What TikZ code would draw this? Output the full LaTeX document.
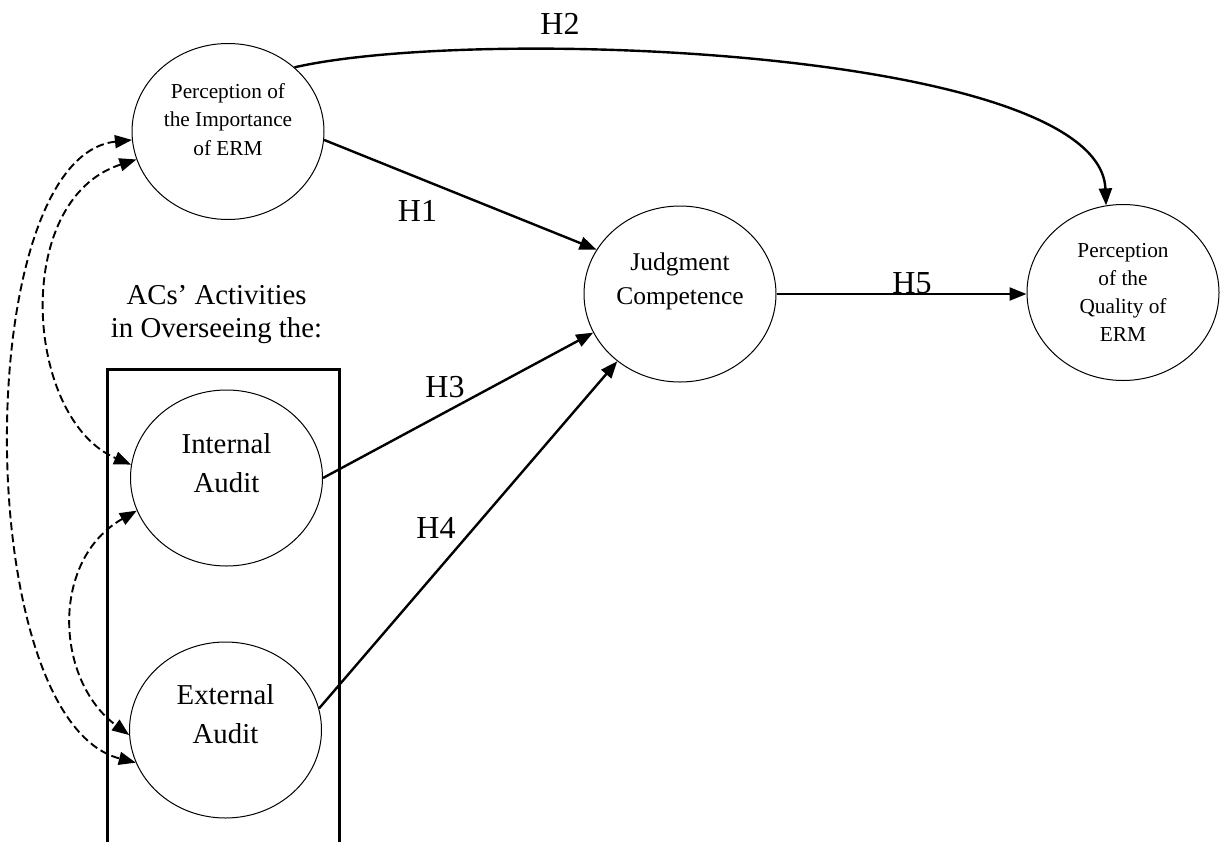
\documentclass[tikz,border=0pt]{standalone}
\usepackage{fontspec}
\setmainfont{Liberation Serif}
\usetikzlibrary{arrows.meta,shapes.geometric}

\begin{document}
\begin{tikzpicture}[x=0.5pt,y=-0.5pt,>={Triangle[length=8.5pt,width=6.5pt]},
  construct/.style={draw,ellipse,line width=0.5pt,minimum width=96pt,minimum height=88pt,inner sep=0pt,align=center},
  hyp/.style={->,line width=1.2pt},
  corr/.style={<->,line width=0.95pt,dash pattern=on 4pt off 2pt},
  hlab/.style={font=\fontsize{16}{19}\selectfont}]
  \useasboundingbox (0,0) rectangle (1226,841);

  % constructs
  \node[construct,font=\fontsize{10.65}{14.25}\selectfont] (imp) at (228,131.5) {Perception of\\the Importance\\of ERM\rule[-12.25pt]{0pt}{12.25pt}};
  \node[construct,font=\fontsize{12.75}{17}\selectfont] (jc) at (680,294) {Judgment\\Competence\rule[-15.75pt]{0pt}{15.75pt}};
  \node[construct,font=\fontsize{10.65}{14}\selectfont] (qual) at (1123,292.5) {Perception\\of the\\Quality of\\ERM};
  \node[construct,font=\fontsize{14.4}{19.5}\selectfont] (ia) at (226.5,478) {Internal\\Audit\rule[-15.25pt]{0pt}{15.25pt}};
  \node[construct,font=\fontsize{14.4}{19.5}\selectfont] (ea) at (225.5,730) {External\\Audit\rule[-16.25pt]{0pt}{16.25pt}};

  % AC box
  \node[align=center,font=\fontsize{14.4}{16.5}\selectfont] (acs) at (216.5,315) {ACs’ Activities\\in Overseeing the:};
  \draw[line width=1.5pt] (107,850) -- (107,369) -- (339,369) -- (339,850);

  % hypotheses
  \draw[hyp] (imp.355) -- (jc.152);
  \draw[hyp] (imp.44) .. controls (480,25) and (1100,50) .. (qual.101);
  \draw[hyp] (ia.0) -- (jc.204);
  \draw[hyp] (ea.13) -- (jc.227);
  \draw[hyp] (jc.east) -- (jc.east -| qual.west);
  \node[hlab] (h1) at (417.5,211) {H1};
  \node[hlab] (h2) at (560,24) {H2};
  \node[hlab] (h3) at (445,387) {H3};
  \node[hlab] (h4) at (436,528) {H4};
  \node[hlab] (h5) at (912,283) {H5};

  % correlations
  \draw[corr] (imp.185) .. controls (-30,157) and (-30,720) .. (ea.200);
  \draw[corr] (imp.197) .. controls (10,200) and (25,420) .. (ia.172);
  \draw[corr] (ia.200) .. controls (50,560) and (55,680) .. (ea.183);
\end{tikzpicture}
\end{document}
